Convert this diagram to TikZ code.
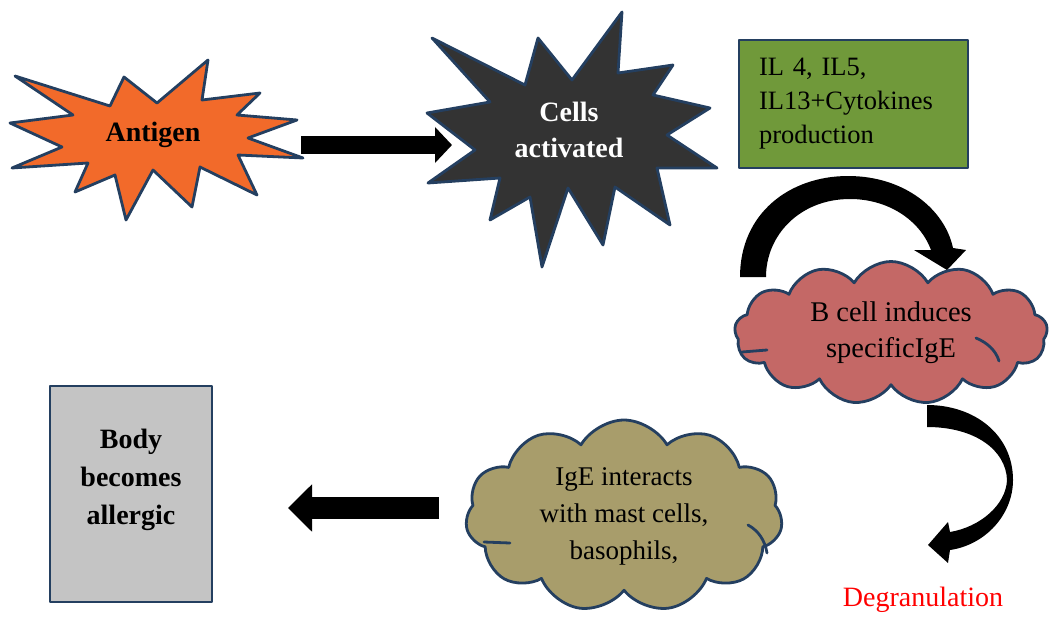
\documentclass[tikz,border=0pt]{standalone}
\usepackage{fontspec}
\setmainfont{Liberation Serif}
\usetikzlibrary{shapes.symbols,arrows.meta}
\definecolor{navy}{HTML}{243F60}
\definecolor{burst}{HTML}{F26A2A}
\definecolor{darkburst}{HTML}{333333}
\definecolor{leaf}{HTML}{70993A}
\definecolor{rose}{HTML}{C46866}
\definecolor{khaki}{HTML}{A89D6B}
\definecolor{stone}{HTML}{C4C4C4}
\begin{document}
\begin{tikzpicture}[x=1pt,y=-1pt,
  outline/.style={draw=navy,line width=2.8pt,line join=round},
  crease/.style={draw=navy,line width=2.8pt,line cap=round},
  boldtxt/.style={font=\bfseries\fontsize{28}{36}\selectfont,align=center},
  plaintxt/.style={font=\fontsize{28.5}{36}\selectfont,align=center},
  puffy/.style={outline,cloud,cloud ignores aspect,inner sep=0pt},
  blockarrow/.style={draw=black,line cap=butt}
]
\useasboundingbox (0,0) rectangle (1049,621);

% starburst behind "Antigen"
\draw[outline,fill=burst] (15,76) -- (110,106) -- (124,77) -- (157,103) -- (208,60)
  -- (202,100) -- (260,93) -- (237,115) -- (297,120) -- (248,138) -- (303,158)
  -- (238,155) -- (257,195) -- (200,167) -- (192,207) -- (153,170) -- (126,220)
  -- (115,175) -- (75,192) -- (88,163) -- (12,168) -- (62,147) -- (10,123)
  -- (73,115) -- cycle;
\node[boldtxt] (antigen) at (153,135) {Antigen};

% starburst behind "Cells activated"
\draw[outline,fill=darkburst] (432,38) -- (525,85) -- (538,38) -- (572,80) -- (622,12)
  -- (618,73) -- (673,65) -- (653,95) -- (710,108) -- (667,135) -- (717,168)
  -- (657,168) -- (670,225) -- (615,187) -- (603,245) -- (568,188) -- (542,267)
  -- (530,197) -- (490,220) -- (500,178) -- (428,183) -- (475,150) -- (427,113)
  -- (490,102) -- cycle;
\node[boldtxt,text=white] (cells) at (569,130) {Cells\\activated};

% cytokine box
\node[outline,fill=leaf,minimum width=229pt,minimum height=128pt,inner xsep=20pt,
  text width=189pt,align=left,font=\fontsize{26.5}{34}\selectfont] (il) at (853.5,104)
  {IL 4, IL5,\\IL13+Cytokines\\production};

% clouds, with a few creases between the puffs
\node[puffy,cloud puffs=13,cloud puff arc=120,fill=rose,minimum width=313pt,
  minimum height=143pt,plaintxt] (bcell)
  at (891,333) {B cell induces\\specificIgE};
\draw[crease] (742,352) -- (767,350);
\draw[crease] (976,338) .. controls (988,343) and (996,351) .. (999,361);

\node[puffy,cloud puffs=11,cloud puff arc=120,fill=khaki,minimum width=317pt,
  minimum height=192pt,font=\fontsize{27}{37}\selectfont,align=center] (ige)
  at (624,516) {IgE interacts\\with mast cells,\\basophils,};
\draw[crease] (484,542) -- (510,543);
\draw[crease] (748,525) .. controls (759,531) and (765,541) .. (767,553);

% result box
\node[outline,fill=stone,minimum width=162pt,minimum height=216pt] (body) at (131,494) {};
\node[boldtxt,font=\bfseries\fontsize{28}{38}\selectfont] (bodytxt) at (131,480)
  {Body\\becomes\\allergic};

\node[font=\fontsize{28}{34}\selectfont,text=red] (degran) at (923,600) {Degranulation};

% straight block arrows
\coordinate (a1s) at (301,145);
\coordinate (a1e) at (452,145);
\coordinate (a2s) at (439,508);
\coordinate (a2e) at (288,508);
\draw[blockarrow,line width=18pt,-{Triangle[width=35pt,length=17pt]}] (a1s) -- (a1e);
\draw[blockarrow,line width=22pt,-{Triangle[width=46pt,length=24pt]}] (a2s) -- (a2e);

% curved arrow from the cytokine box down onto the B cell cloud
\fill[black] (740,277) .. controls (740,213) and (790,176) .. (848,176)
  .. controls (905,176) and (945,210) .. (953,248) -- (966,250) -- (947,270)
  -- (914,250) -- (931,250) .. controls (920,220) and (888,199) .. (850,199)
  .. controls (800,199) and (766,235) .. (766,277) -- cycle;

% curved arrow from the B cell cloud towards degranulation
\fill[black] (927,405) .. controls (975,405) and (1013,435) .. (1013,480)
  .. controls (1013,515) and (985,545) .. (950,550) -- (948,563) -- (928,545)
  -- (948,522) -- (950,532) .. controls (980,527) and (1006,505) .. (1007,480)
  .. controls (1006,450) and (975,427) .. (927,427) -- cycle;
\end{tikzpicture}
\end{document}
